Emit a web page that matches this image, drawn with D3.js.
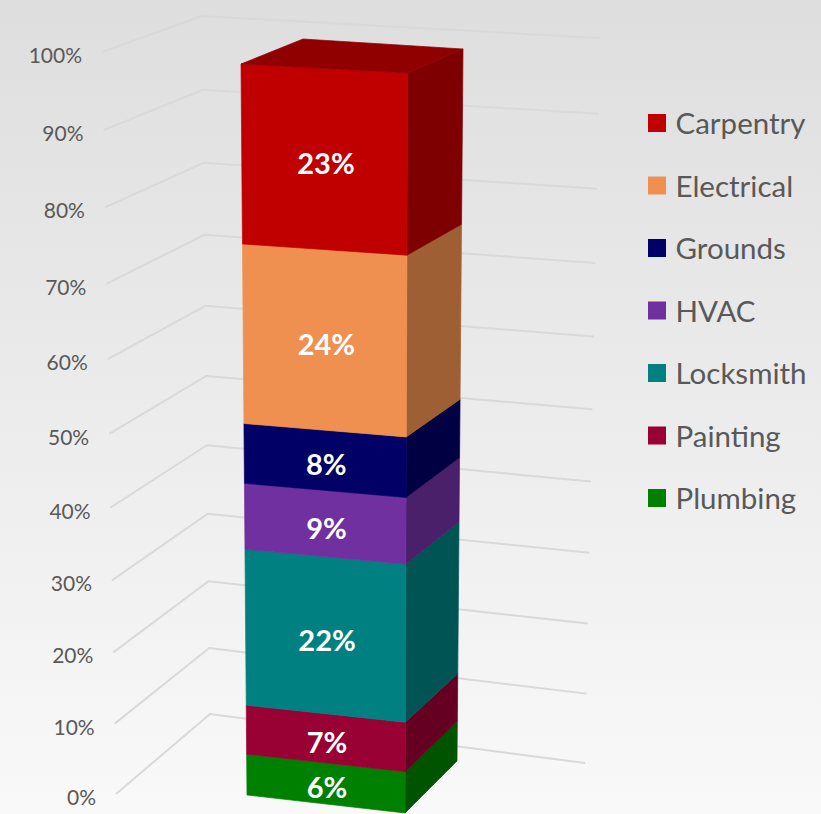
<!DOCTYPE html>
<html>
<head>
<meta charset="utf-8">
<script src="https://cdn.jsdelivr.net/npm/d3@7"></script>
<style>
  html, body { margin: 0; padding: 0; background: #fff; }
  svg { display: block; }
  text { font-family: Lato, "Open Sans", sans-serif; }
</style>
</head>
<body>
<svg id="chart" width="821" height="814"></svg>
<script>
// bottom of the stack first
const categories = ["Plumbing", "Painting", "Locksmith", "HVAC", "Grounds", "Electrical", "Carpentry"];
const shares = [5.8, 6.9, 21.8, 9.1, 8.2, 24.3, 23.9];
const shareLabels = ["6%", "7%", "22%", "9%", "8%", "24%", "23%"];
const colors = ["#008000", "#990033", "#008080", "#7030a0", "#000066", "#f09050", "#c00000"];
const legendOrder = ["Carpentry", "Electrical", "Grounds", "HVAC", "Locksmith", "Painting", "Plumbing"];
const tickValues = [0, 10, 20, 30, 40, 50, 60, 70, 80, 90, 100];

const svg = d3.select("#chart");
const width = +svg.attr("width"), height = +svg.attr("height");

const defs = svg.append("defs");
const bg = defs.append("linearGradient").attr("id", "bg")
  .attr("x1", 0).attr("y1", 0).attr("x2", 0).attr("y2", 1);
bg.append("stop").attr("offset", "0%").attr("stop-color", "#dedede");
bg.append("stop").attr("offset", "100%").attr("stop-color", "#f9f9f9");
svg.append("rect").attr("width", width).attr("height", height).attr("fill", "url(#bg)");

// chart perspective: upper part of the axis is drawn a bit larger
const depth = d3.scaleLinear().domain([0, 100]).range([0, 1]);
const warp = (v, persp) => { const t = depth(v); return t / (t + (1 - t) * persp); };

// an edge of the 3d box, from its 0% end to its 100% end
const edge = (p0, p1, persp) => {
  const sx = d3.scaleLinear().domain([0, 1]).range([p0[0], p1[0]]);
  const sy = d3.scaleLinear().domain([0, 1]).range([p0[1], p1[1]]);
  return v => [sx(warp(v, persp)), sy(warp(v, persp))];
};

const gridLeft = edge([116, 794], [102, 52], 1.06);
const gridCorner = edge([210, 714], [202, 16], 1.065);
const gridRight = edge([585, 763], [600, 38], 1.05);
const frontLeft = edge([247, 795], [241, 64], 1.04);
const frontRight = edge([405, 813], [407.5, 73], 1.04);
const backRight = edge([457, 761], [463, 49], 1.04);
const backLeft = edge([298, 742], [303, 39], 1.04);

const line = d3.line();

// gridlines on the two walls
svg.append("g").selectAll("path").data(tickValues).enter().append("path")
  .attr("d", d => line([gridLeft(d), gridCorner(d), gridRight(d)]))
  .attr("fill", "none")
  .attr("stroke", "#d9d9d9")
  .attr("stroke-width", 2);

svg.append("g").selectAll("text").data(tickValues).enter().append("text")
  .attr("x", d => gridLeft(d)[0] - 20)
  .attr("y", d => gridLeft(d)[1] + 11)
  .attr("text-anchor", "end")
  .attr("font-size", 21)
  .attr("fill", "#595959")
  .text(d => d + "%");

const row = {};
categories.forEach((c, i) => { row[c] = shares[i]; });
const stacked = d3.stack().keys(categories)([row]);

const shade = (c, k) => {
  const rgb = d3.rgb(c);
  return d3.rgb(rgb.r * k, rgb.g * k, rgb.b * k).formatHex();
};

const face = (g, pts, fill) => g.append("path")
  .attr("d", line(pts) + "Z")
  .attr("fill", fill)
  .attr("stroke", fill)
  .attr("stroke-width", 0.7);

const bars = svg.append("g");
stacked.forEach((s, i) => {
  const [y0, y1] = s[0];
  face(bars, [frontRight(y0), backRight(y0), backRight(y1), frontRight(y1)], shade(colors[i], 0.66));
  face(bars, [frontLeft(y0), frontRight(y0), frontRight(y1), frontLeft(y1)], colors[i]);
});

// only the last series shows its lid
const topVal = stacked[stacked.length - 1][0][1];
face(bars, [frontLeft(topVal), frontRight(topVal), backRight(topVal), backLeft(topVal)],
  shade(colors[colors.length - 1], 0.75));

svg.append("g").selectAll("text").data(stacked).enter().append("text")
  .attr("x", d => (frontLeft(d[0][0])[0] + frontRight(d[0][1])[0]) / 2 + 1)
  .attr("y", d => {
    const m = (d[0][0] + d[0][1]) / 2;
    return (frontLeft(m)[1] + frontRight(m)[1]) / 2 + 15;
  })
  .attr("text-anchor", "middle")
  .attr("font-size", 29)
  .attr("font-weight", 700)
  .attr("fill", "#fff")
  .text((d, i) => shareLabels[i]);

const legendY = d3.scalePoint().domain(legendOrder).range([123, 498]);
const legend = svg.append("g").selectAll("g").data(legendOrder).enter().append("g")
  .attr("transform", d => `translate(648,${legendY(d)})`);
legend.append("rect")
  .attr("y", -9)
  .attr("width", 18)
  .attr("height", 18)
  .attr("fill", d => colors[categories.indexOf(d)]);
legend.append("text")
  .attr("x", 27.5)
  .attr("y", 11)
  .attr("font-size", 29.5)
  .attr("fill", "#595959")
  .text(d => d);
</script>
</body>
</html>
